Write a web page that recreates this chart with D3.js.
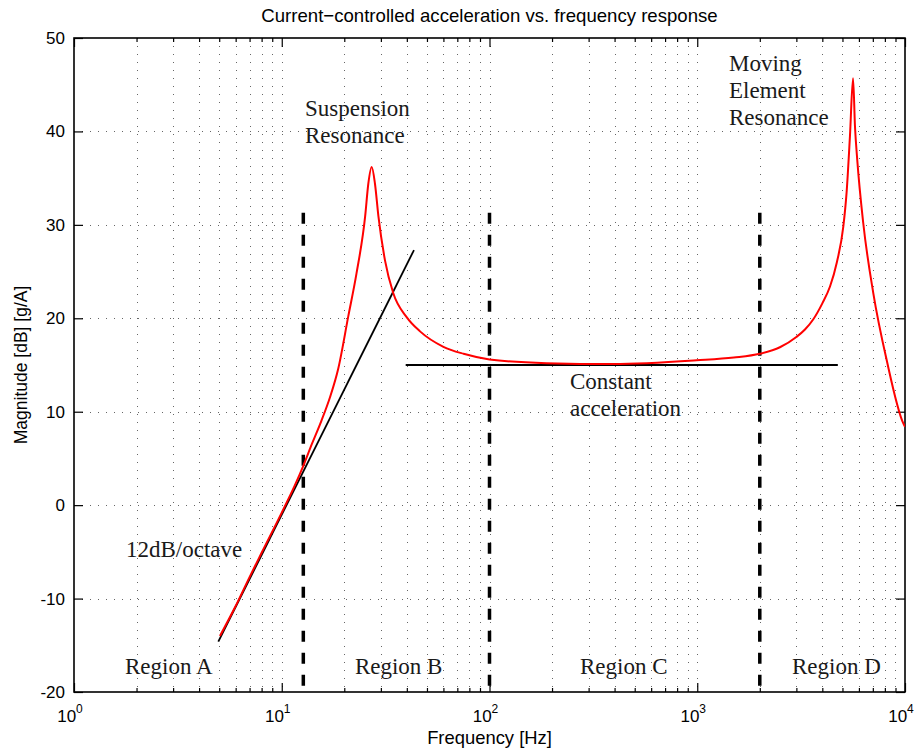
<!DOCTYPE html>
<html><head><meta charset="utf-8">
<script src="https://cdn.jsdelivr.net/npm/d3@7"></script>
<style>body{margin:0;background:#fff}</style>
</head><body><svg id="chart" width="918" height="749"></svg>
<script>
// ---- data ----
const responseFreq = [5.04, 6, 7, 8, 10, 11.5, 12.7, 14, 15.5, 17.1, 18.7, 20.9, 22.9, 25.2, 26.1, 27.1, 28.1, 29.2, 31.4, 34.4, 40, 46.3, 60, 75, 100, 188, 394, 993, 1500, 2000, 2500, 3000, 3300, 3620, 4000, 4355, 4700, 5047, 5236, 5433, 5623, 5745, 5893, 6295, 7036, 8166, 9815, 10000];
const responseDb   = [-14.0, -10.8, -7.7, -5.1, -0.8, 2.0, 4.2, 6.6, 9.0, 11.6, 14.6, 20.2, 24.8, 30.9, 34.4, 36.2, 34.4, 30.9, 26.2, 22.7, 20.1, 18.6, 16.95, 16.2, 15.6, 15.2, 15.1, 15.5, 15.8, 16.2, 16.9, 18.0, 18.8, 19.9, 21.6, 23.4, 26.0, 29.8, 33.5, 39.5, 45.7, 40.5, 36.9, 30.2, 22.7, 15.5, 8.75, 8.4];
const slopeFreq = [4.95, 43.3];
const slopeDb   = [-14.6, 27.3];
const constFreq = [39.5, 4750];
const constDb   = [15, 15];
const regionBoundaryFreq = [12.7, 100, 2000];
const regionBoundaryTopDb = 31.3;
const yTicks = [-20, -10, 0, 10, 20, 30, 40, 50];
const xDecades = [0, 1, 2, 3, 4];
const annotationText = [["Suspension", "Resonance"], ["Moving", "Element", "Resonance"], ["Constant", "acceleration"], ["12dB/octave"], ["Region A"], ["Region B"], ["Region C"], ["Region D"]];
const annotationFreq = [12.94, 1422, 244, 1.78, 1.76, 22.5, 272.7, 2858];
const annotationDb   = [41.7, 46.5, 12.4, -5.57, -18.1, -18.1, -18.1, -18.1];
const titleText = "Current\u2212controlled acceleration vs. frequency response";
const xLabel = "Frequency [Hz]";
const yLabel = "Magnitude [dB] [g/A]";

// ---- layout ----
const L = 74, R = 905, T = 38, B = 692;
const svg = d3.select("#chart");
const x = d3.scaleLog().domain([1, 10000]).range([L, R]);
const y = d3.scaleLinear().domain([-20, 50]).range([B, T]);

svg.append("defs").append("clipPath").attr("id", "clip")
  .append("rect").attr("x", L).attr("y", T).attr("width", R - L).attr("height", B - T);

// grid
const minorFreqs = [];
xDecades.slice(0, -1).forEach(d => { for (let k = 1; k <= 9; k++) { if (!(d === 0 && k === 1)) minorFreqs.push(k * Math.pow(10, d)); } });
const grid = svg.append("g").attr("stroke", "#666").attr("stroke-width", 1).attr("stroke-dasharray", "1,7");
grid.selectAll("line.v").data(minorFreqs).join("line")
  .attr("x1", d => Math.round(x(d)) + 0.5).attr("x2", d => Math.round(x(d)) + 0.5)
  .attr("y1", T).attr("y2", B);
grid.selectAll("line.h").data(yTicks.slice(1, -1)).join("line")
  .attr("x1", L).attr("x2", R)
  .attr("y1", d => Math.round(y(d)) + 0.5).attr("y2", d => Math.round(y(d)) + 0.5);

// axes with inward ticks (bottom/left) + mirrored (top/right)
const majorFreqs = xDecades.map(d => Math.pow(10, d));
const minorOnly = minorFreqs.filter(f => !majorFreqs.includes(f));
const axB = d3.axisBottom(x).tickValues(majorFreqs).tickSize(-9).tickFormat("");
const axBm = d3.axisBottom(x).tickValues(minorOnly).tickSize(-4).tickFormat("");
const axT = d3.axisTop(x).tickValues(majorFreqs).tickSize(-9).tickFormat("");
const axTm = d3.axisTop(x).tickValues(minorOnly).tickSize(-4).tickFormat("");
const axLft = d3.axisLeft(y).tickValues(yTicks).tickSize(-9).tickFormat("");
const axRgt = d3.axisRight(y).tickValues(yTicks).tickSize(-9).tickFormat("");
[[axB, `translate(0,${B})`], [axBm, `translate(0,${B})`], [axT, `translate(0,${T})`], [axTm, `translate(0,${T})`], [axLft, `translate(${L},0)`], [axRgt, `translate(${R},0)`]].forEach(([a, tr]) => {
  const g = svg.append("g").attr("transform", tr).call(a);
  g.select(".domain").remove();
  g.selectAll("line").attr("stroke", "#000").attr("stroke-width", 1.2);
});
svg.append("rect").attr("x", L).attr("y", T).attr("width", R - L).attr("height", B - T)
  .attr("fill", "none").attr("stroke", "#000").attr("stroke-width", 1.6);

// tick labels
const sans = "'Liberation Sans', Arial, sans-serif";
svg.append("g").selectAll("text").data(yTicks).join("text")
  .attr("x", L - 9).attr("y", d => y(d)).attr("dy", "0.35em")
  .attr("text-anchor", "end").attr("font-family", sans).attr("font-size", 17).attr("fill", "#000")
  .text(d => d);
const xl = svg.append("g").selectAll("text").data(xDecades).join("text")
  .attr("x", d => x(Math.pow(10, d)) - 4).attr("y", 722)
  .attr("text-anchor", "middle").attr("font-family", sans).attr("font-size", 17).attr("fill", "#000");
xl.append("tspan").text("10");
xl.append("tspan").attr("dy", -9).attr("font-size", 12).text(d => d);

// region boundaries
svg.append("g").selectAll("line").data(regionBoundaryFreq).join("line")
  .attr("x1", d => x(d)).attr("x2", d => x(d))
  .attr("y1", y(regionBoundaryTopDb)).attr("y2", B)
  .attr("stroke", "#000").attr("stroke-width", 3.5).attr("stroke-dasharray", "11,11");

// lines
const line = d3.line().x(d => x(d[0])).y(d => y(d[1]));
const plot = svg.append("g").attr("clip-path", "url(#clip)");
plot.append("path").datum(d3.zip(slopeFreq, slopeDb)).attr("d", line)
  .attr("fill", "none").attr("stroke", "#000").attr("stroke-width", 1.8);
plot.append("path").datum(d3.zip(constFreq, constDb)).attr("d", line)
  .attr("fill", "none").attr("stroke", "#000").attr("stroke-width", 1.8);
plot.append("path").datum(d3.zip(responseFreq, responseDb))
  .attr("d", d3.line().x(d => x(d[0])).y(d => y(d[1])).curve(d3.curveMonotoneX))
  .attr("fill", "none").attr("stroke", "#ff0000").attr("stroke-width", 2);

// annotations
const serif = "'Liberation Serif', 'Times New Roman', serif";
annotationText.forEach((lines, i) => {
  const t = svg.append("text").attr("x", x(annotationFreq[i])).attr("y", y(annotationDb[i]))
    .attr("font-family", serif).attr("font-size", 23).attr("fill", "#1a1a1a");
  lines.forEach((s, j) => t.append("tspan").attr("x", x(annotationFreq[i])).attr("dy", j === 0 ? 0 : 27).text(s));
});

// titles
svg.append("text").attr("x", (L + R) / 2).attr("y", 22).attr("text-anchor", "middle")
  .attr("font-family", sans).attr("font-size", 18.6).attr("fill", "#000").text(titleText);
svg.append("text").attr("x", (L + R) / 2).attr("y", 744).attr("text-anchor", "middle")
  .attr("font-family", sans).attr("font-size", 18.4).attr("fill", "#000").text(xLabel);
svg.append("text").attr("transform", `translate(27,${(T + B) / 2}) rotate(-90)`).attr("text-anchor", "middle")
  .attr("font-family", sans).attr("font-size", 17.5).attr("fill", "#000").text(yLabel);
</script></body></html>
